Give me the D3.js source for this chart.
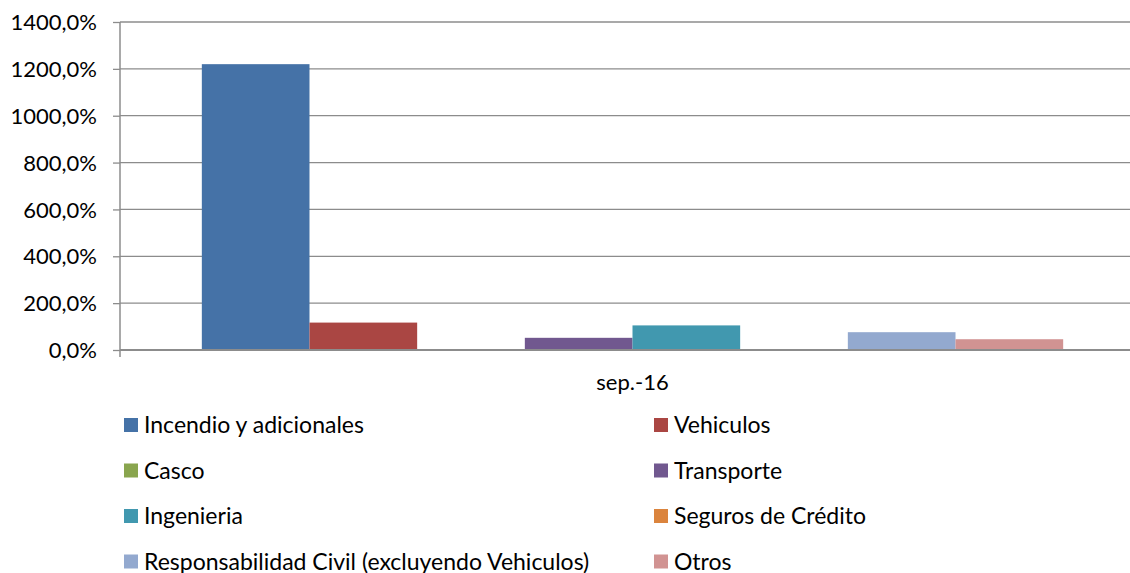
<!DOCTYPE html>
<html>
<head>
<meta charset="utf-8">
<script src="https://cdn.jsdelivr.net/npm/d3@7"></script>
<style>
  body { margin: 0; background: #fff; }
  svg { display: block; }
  text { font-family: Lato, "Open Sans", sans-serif; fill: #000; }
</style>
</head>
<body>
<div id="chart"></div>
<script>
// data
var categories = ["sep.-16"];
var seriesNames = ["Incendio y adicionales", "Vehiculos", "Casco", "Transporte",
                   "Ingenieria", "Seguros de Crédito",
                   "Responsabilidad Civil (excluyendo Vehiculos)", "Otros"];
var seriesValues = [1220, 117, 0, 52, 105, 0, 76, 46];
var seriesColors = ["#4572A7", "#AA4643", "#89A54E", "#71588F",
                    "#4198AF", "#DB843D", "#93A9CF", "#D19392"];
var yTicks = [0, 200, 400, 600, 800, 1000, 1200, 1400];

var width = 1130, height = 573;
var plotLeft = 120, plotRight = 1145, plotTop = 22, plotBottom = 350;

var svg = d3.select("#chart")
	.append("svg")
	.attr("width", width)
	.attr("height", height);

var y = d3.scaleLinear().domain([0, 1400]).range([plotBottom, plotTop]);

// plot runs past the right edge, like the original
var x0 = d3.scaleBand().domain(categories).range([plotLeft, plotRight]).paddingInner(0).paddingOuter(0.095);
var x1 = d3.scaleBand().domain(seriesNames).range([0, x0.bandwidth()]);

// gridlines
svg.append("g")
	.selectAll("line")
	.data(yTicks.filter(function(d) { return d > 0; }))
	.enter().append("line")
	.attr("x1", plotLeft)
	.attr("x2", plotRight)
	.attr("y1", function(d) { return y(d); })
	.attr("y2", function(d) { return y(d); })
	.style("stroke", "#8c8c8c")
	.style("stroke-width", 1.3);

// bars
var group = svg.selectAll(".cat")
	.data(categories)
	.enter().append("g")
	.attr("class", "cat")
	.attr("transform", function(d) { return "translate(" + x0(d) + ",0)"; });

group.selectAll("rect")
	.data(seriesNames.map(function(n, i) { return { name: n, value: seriesValues[i], color: seriesColors[i] }; }))
	.enter().append("rect")
	.attr("x", function(d) { return x1(d.name); })
	.attr("width", x1.bandwidth())
	.attr("y", function(d) { return y(d.value); })
	.attr("height", function(d) { return plotBottom - y(d.value); })
	.style("fill", function(d) { return d.color; });

// y axis
var yAxis = svg.append("g")
	.attr("transform", "translate(" + plotLeft + ",0)")
	.call(d3.axisLeft(y).tickValues(yTicks).tickSize(7).tickPadding(16)
		.tickFormat(function(d) { return d3.format(".1f")(d).replace(".", ",") + "%"; }));
yAxis.select(".domain").remove();
yAxis.selectAll(".tick line").style("stroke", "#8c8c8c").style("stroke-width", 1.3);
yAxis.selectAll(".tick text").style("font-size", "22px").attr("dy", "0.35em")
	.style("font-family", "Lato, sans-serif").style("fill", "#000");
yAxis.append("line")
	.attr("x1", 0).attr("x2", 0)
	.attr("y1", plotTop).attr("y2", plotBottom + 7)
	.style("stroke", "#8c8c8c")
	.style("stroke-width", 1.5);

// x axis
svg.append("line")
	.attr("x1", plotLeft).attr("x2", plotRight)
	.attr("y1", plotBottom).attr("y2", plotBottom)
	.style("stroke", "#8c8c8c")
	.style("stroke-width", 2);

svg.selectAll(".xlabel")
	.data(categories)
	.enter().append("text")
	.attr("class", "xlabel")
	.attr("x", function(d) { return x0(d) + x0.bandwidth() / 2; })
	.attr("y", 382)
	.attr("dy", "0.35em")
	.attr("text-anchor", "middle")
	.style("font-size", "22px")
	.text(function(d) { return d; });

// legend, two columns
var legend = svg.selectAll(".legend")
	.data(seriesNames)
	.enter().append("g")
	.attr("class", "legend")
	.attr("transform", function(d, i) {
		var lx = (i % 2 == 0) ? 124 : 654;
		var ly = 425 + Math.floor(i / 2) * 45.5;
		return "translate(" + lx + "," + ly + ")";
	});

legend.append("rect")
	.attr("x", 0)
	.attr("y", -7)
	.attr("width", 14)
	.attr("height", 14)
	.style("fill", function(d, i) { return seriesColors[i]; });

legend.append("text")
	.attr("x", 20)
	.attr("y", 0)
	.attr("dy", "0.35em")
	.style("font-size", "23px")
	.text(function(d) { return d; });
</script>
</body>
</html>
